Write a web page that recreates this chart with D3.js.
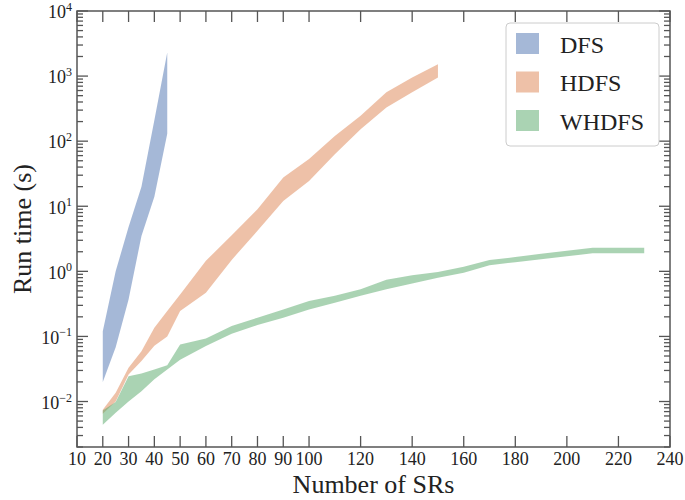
<!DOCTYPE html>
<html><head><meta charset="utf-8">
<script src="https://cdn.jsdelivr.net/npm/d3@7"></script>
<style>body{margin:0;background:#fff}svg{display:block}text{font-family:"Liberation Serif","DejaVu Serif",serif;fill:#222}</style>
</head><body><svg id="c" width="685" height="500"></svg>
<script>
const xTicks = [10,20,30,40,50,60,70,80,90,100,120,140,160,180,200,220,240];
const yTickExps = [-2,-1,0,1,2,3,4];
const seriesNames = ["DFS","HDFS","WHDFS"];
const seriesColors = ["#4c72b0","#dd8452","#55a868"];

const dfsX = [20,25,30,35,40,45];
const dfsLow = [0.02,0.068,0.37,3.5,14,130];
const dfsHigh = [0.12,1.0,4.8,20,210,2300];

const hdfsX = [20,25,30,35,40,45,50,60,70,80,90,100,110,120,130,140,150];
const hdfsLow = [0.0065,0.01,0.026,0.042,0.072,0.1,0.245,0.47,1.5,4.2,12,24.5,63,153,330,565,955];
const hdfsHigh = [0.0075,0.0136,0.033,0.059,0.136,0.245,0.44,1.45,3.6,9,27.6,53,120,246,565,955,1520];

const whdfsX = [20,25,30,35,40,45,50,60,70,80,90,100,110,120,130,140,150,160,170,180,190,200,210,220,230];
const whdfsLow = [0.0044,0.0067,0.01,0.0144,0.022,0.031,0.044,0.071,0.11,0.15,0.194,0.26,0.33,0.42,0.53,0.65,0.8,0.95,1.24,1.38,1.53,1.7,1.89,1.89,1.89];
const whdfsHigh = [0.0073,0.0098,0.0245,0.027,0.031,0.036,0.075,0.093,0.144,0.194,0.26,0.35,0.42,0.53,0.74,0.87,0.98,1.18,1.49,1.66,1.86,2.07,2.31,2.31,2.31];

const L=77,R=670,T=11,B=447;
const svg=d3.select("#c");
const x=d3.scaleLinear().domain([10,240]).range([L,R]);
const y=d3.scaleLog().domain([0.002,10000]).range([B,T]);

const series=[[dfsX,dfsLow,dfsHigh],[hdfsX,hdfsLow,hdfsHigh],[whdfsX,whdfsLow,whdfsHigh]];
const area=d3.area().x(d=>x(d.x)).y0(d=>y(d.lo)).y1(d=>y(d.hi));
series.forEach((s,i)=>{
  const data=s[0].map((v,j)=>({x:v,lo:s[1][j],hi:s[2][j]}));
  svg.append("path").attr("d",area(data)).attr("fill",seriesColors[i]).attr("fill-opacity",0.5);
});

const tc="#555";
const g=svg.append("g").attr("stroke",tc).attr("stroke-width",1.3);
xTicks.forEach(v=>{
  g.append("line").attr("x1",x(v)).attr("x2",x(v)).attr("y1",B).attr("y2",B-11);
  g.append("line").attr("x1",x(v)).attr("x2",x(v)).attr("y1",T).attr("y2",T+11);
});
const minor=[];
for(let e=-3;e<4;e++) for(let k=2;k<10;k++){const v=k*Math.pow(10,e); if(v>=0.002&&v<=10000) minor.push(v);}
minor.forEach(v=>{
  g.append("line").attr("x1",L).attr("x2",L+6).attr("y1",y(v)).attr("y2",y(v));
  g.append("line").attr("x1",R).attr("x2",R-6).attr("y1",y(v)).attr("y2",y(v));
});
yTickExps.forEach(e=>{
  const v=Math.pow(10,e);
  g.append("line").attr("x1",L).attr("x2",L+11).attr("y1",y(v)).attr("y2",y(v));
  g.append("line").attr("x1",R).attr("x2",R-11).attr("y1",y(v)).attr("y2",y(v));
});
svg.append("rect").attr("x",L).attr("y",T).attr("width",R-L).attr("height",B-T).attr("fill","none").attr("stroke",tc).attr("stroke-width",1.5);

xTicks.forEach(v=>{
  svg.append("text").attr("x",x(v)).attr("y",465).attr("text-anchor","middle").attr("font-size",18).text(v);
});
yTickExps.forEach(e=>{
  const yy=y(Math.pow(10,e));
  const t=svg.append("text").attr("x",72).attr("y",yy+7.3).attr("text-anchor","end").attr("font-size",18);
  t.append("tspan").text("10");
  t.append("tspan").attr("font-size",12).attr("dy",-7.3).text(String(e).replace("-","\u2212"));
});

svg.append("text").attr("x",(L+R)/2).attr("y",493).attr("text-anchor","middle").attr("font-size",26).text("Number of SRs");
svg.append("text").attr("transform",`translate(31,${(T+B)/2}) rotate(-90)`).attr("text-anchor","middle").attr("font-size",26).text("Run time (s)");

const lg=svg.append("g");
lg.append("rect").attr("x",506).attr("y",23).attr("width",153).attr("height",123).attr("rx",4).attr("fill","#fff").attr("fill-opacity",0.8).attr("stroke","#ccc").attr("stroke-width",1);
seriesNames.forEach((n,i)=>{
  const yy=33+i*38.5;
  lg.append("rect").attr("x",516).attr("y",yy).attr("width",23).attr("height",21).attr("fill",seriesColors[i]).attr("fill-opacity",0.5);
  lg.append("text").attr("x",560).attr("y",yy+19.5).attr("font-size",24).text(n);
});
</script></body></html>
